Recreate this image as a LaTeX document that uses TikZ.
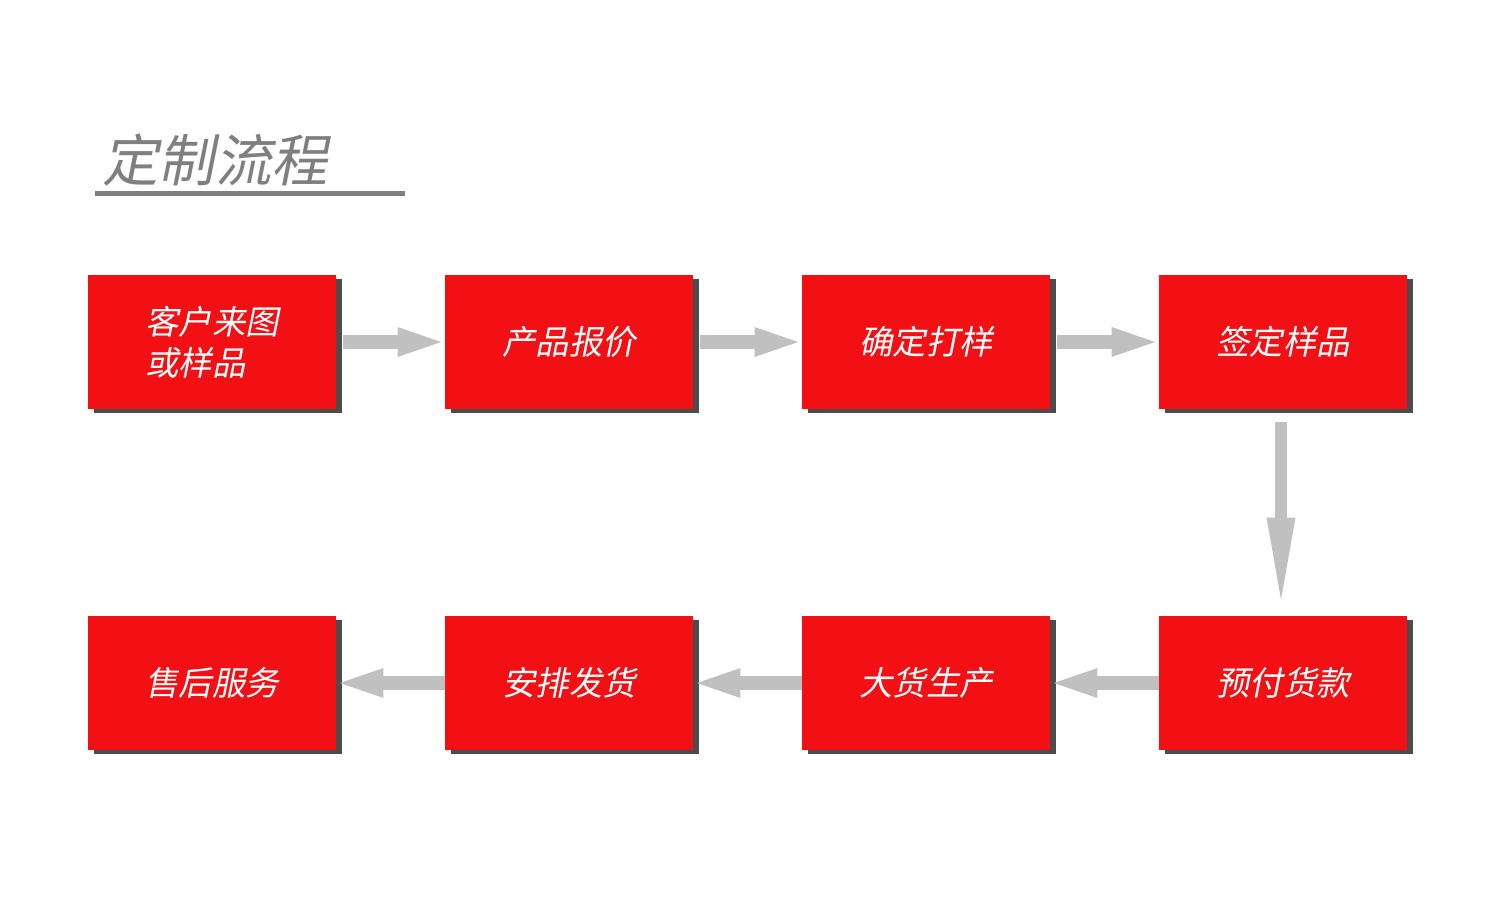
\documentclass[tikz,border=0pt]{standalone}
\usepackage{fontspec}
\newfontfamily\cjk[FakeSlant=0.2]{Noto Sans CJK SC}
\usetikzlibrary{arrows.meta,shadows}
\definecolor{boxred}{HTML}{F21014}
\definecolor{arrowgray}{HTML}{C0C0C0}
\definecolor{titlegray}{HTML}{7F7F7F}
\tikzset{
  stepbox/.style={fill=boxred,minimum width=4.96cm,minimum height=2.68cm,
    text=white,font=\cjk\fontsize{19}{23}\selectfont,
    drop shadow={shadow xshift=0.12cm,shadow yshift=-0.08cm,fill=black!70,opacity=1}},
  flow/.style={arrowgray,line width=0.28cm,-{Triangle[length=1cm,width=0.5cm]}},
}
\begin{document}
\begin{tikzpicture}[x=0.02cm,y=-0.02cm]
\useasboundingbox (0,0) rectangle (1500,900);
%%
  \node (title) at (215,160) [text=titlegray,font=\cjk\fontsize{32}{36}\selectfont] {定制流程};
  \draw [titlegray,line width=0.1cm] (95,193) -- (405,193);

  \node (node_0) at (212,342) [stepbox,align=left] {客户来图\\或样品};
  \node (node_1) at (569,342) [stepbox] {产品报价};
  \node (node_2) at (926,342) [stepbox] {确定打样};
  \node (node_3) at (1283,342) [stepbox] {签定样品};
  \node (node_4) at (1283,683) [stepbox] {预付货款};
  \node (node_5) at (926,683) [stepbox] {大货生产};
  \node (node_6) at (569,683) [stepbox] {安排发货};
  \node (node_7) at (212,683) [stepbox] {售后服务};

  \draw [flow,shorten <=0.14cm,shorten >=-0.06cm] (node_0) -- (node_1);
  \draw [flow,shorten <=0.14cm,shorten >=-0.06cm] (node_1) -- (node_2);
  \draw [flow,shorten <=0.14cm,shorten >=-0.06cm] (node_2) -- (node_3);
  \draw [arrowgray,line width=0.24cm,-{Triangle[length=1.84cm,width=0.5cm]},shorten <=0.26cm,shorten >=0.12cm] ([xshift=-0.04cm]node_3.south) -- ([xshift=-0.04cm]node_4.north);
  \draw [flow,shorten >=-0.06cm] (node_4) -- (node_5);
  \draw [flow,shorten >=-0.06cm] (node_5) -- (node_6);
  \draw [flow,shorten >=-0.06cm] (node_6) -- (node_7);
%
\end{tikzpicture}
\end{document}
